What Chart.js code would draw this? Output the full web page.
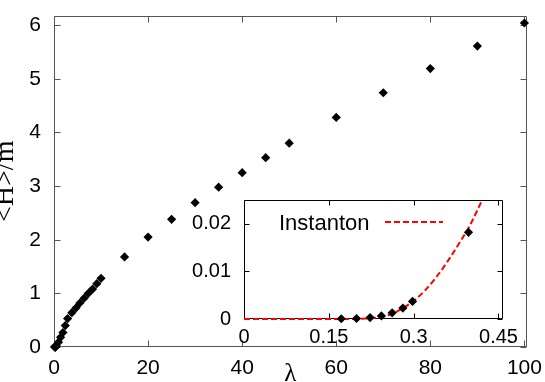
<!DOCTYPE html>
<html>
<head>
<meta charset="utf-8">
<script src="https://cdn.jsdelivr.net/npm/chart.js@4.4.0/dist/chart.umd.min.js"></script>
<style>
  body { margin: 0; background: #fff; }
  #wrap { position: relative; width: 545px; height: 382px; overflow: hidden; }
  #mainChart { position: absolute; left: 0; top: 0; }
  #insetChart { position: absolute; left: 190px; top: 185px; }
</style>
</head>
<body>
<div id="wrap">
  <canvas id="mainChart" width="545" height="382"></canvas>
  <canvas id="insetChart" width="340" height="160"></canvas>
</div>
<script>
// small lambda points (shown in the inset, and piled up at the origin of the main plot)
const lambdaSmall = [0.172, 0.199, 0.223, 0.243, 0.262, 0.281, 0.298, 0.397];
const energySmall = [0.00005, 0.0001, 0.0003, 0.00065, 0.0013, 0.0023, 0.0037, 0.0182];

// <H>/m vs lambda, main plot
const lambdaMain = [0.45, 0.95, 1.4, 1.9, 2.4, 2.9, 3.8, 4.7, 5.5, 6.4, 7.3, 8.2, 9.1, 10,
                    15, 20, 25, 30, 35, 40, 45, 50, 60, 70, 80, 90, 100];
const energyMain = [0.03, 0.09, 0.18, 0.27, 0.40, 0.53, 0.64, 0.73, 0.82, 0.91, 1.00, 1.08, 1.18, 1.28,
                    1.68, 2.05, 2.38, 2.69, 2.98, 3.25, 3.53, 3.80, 4.28, 4.74, 5.19, 5.61, 6.04];

// instanton estimate
const instantonLambda = [0, 0.05, 0.1, 0.15, 0.2, 0.22, 0.24, 0.26, 0.28, 0.30, 0.32, 0.34, 0.36, 0.38, 0.40, 0.42];
const instantonEnergy = [0, 0, 0, 0, 0.00003, 0.0001, 0.0004, 0.001, 0.0022, 0.0038, 0.006, 0.0088, 0.0121, 0.0158, 0.0198, 0.0247];

const mainXTicks = [0, 20, 40, 60, 80, 100];
const mainYTicks = [0, 1, 2, 3, 4, 5, 6];
const insetXTicks = [0, 0.15, 0.3, 0.45];
const insetYTicks = [0, 0.01, 0.02];

const toPoints = (xs, ys) => xs.map((x, i) => ({ x: x, y: ys[i] }));

// gnuplot-like box with inward ticks on all four sides
const framePlugin = {
    id: 'frame',
    beforeDraw(chart, args, opts) {
        if (!opts.fill) return;
        const a = chart.chartArea;
        chart.ctx.save();
        chart.ctx.fillStyle = opts.fill;
        chart.ctx.fillRect(a.left, a.top, a.right - a.left, a.bottom - a.top);
        chart.ctx.restore();
    },
    beforeDatasetsDraw(chart, args, opts) {
        const { ctx, chartArea: a, scales } = chart;
        const len = opts.tickLength;
        const L = Math.round(a.left) + 0.5, R = Math.round(a.right) - 0.5;
        const T = Math.round(a.top) + 0.5, B = Math.round(a.bottom) - 0.5;
        ctx.save();
        ctx.strokeStyle = opts.color;
        ctx.lineWidth = 1;
        ctx.beginPath();
        ctx.rect(L, T, R - L, B - T);
        scales.x.ticks.forEach(t => {
            const px = Math.round(scales.x.getPixelForValue(t.value)) + 0.5;
            ctx.moveTo(px, B); ctx.lineTo(px, B - len);
            ctx.moveTo(px, T); ctx.lineTo(px, T + len);
        });
        scales.y.ticks.forEach(t => {
            const py = Math.round(scales.y.getPixelForValue(t.value)) + 0.5;
            ctx.moveTo(L, py); ctx.lineTo(L + len, py);
            ctx.moveTo(R, py); ctx.lineTo(R - len, py);
        });
        ctx.stroke();
        ctx.restore();
    }
};

// key of the inset: text first, dashed sample after it
const keyPlugin = {
    id: 'key',
    afterDatasetsDraw(chart, args, opts) {
        const { ctx, chartArea: a } = chart;
        ctx.save();
        ctx.font = '22px "Liberation Sans"';
        ctx.fillStyle = '#000';
        ctx.textBaseline = 'alphabetic';
        ctx.fillText(opts.text, a.left + 35, a.top + 30);
        ctx.strokeStyle = opts.color;
        ctx.lineWidth = 2;
        ctx.setLineDash([6, 3]);
        ctx.beginPath();
        ctx.moveTo(a.left + 141, a.top + 22);
        ctx.lineTo(a.left + 199, a.top + 22);
        ctx.stroke();
        ctx.restore();
    }
};

const sansTicks = size => ({
    color: '#000',
    font: { family: 'Liberation Sans', size: size, lineHeight: 1 },
    maxRotation: 0,
    autoSkip: false,
    callback: v => String(v)
});

new Chart(document.getElementById('mainChart'), {
    type: 'scatter',
    data: {
        datasets: [{
            data: toPoints(lambdaSmall.concat(lambdaMain), energySmall.concat(energyMain)),
            pointStyle: 'rectRot',
            pointRadius: 4.6,
            backgroundColor: '#000',
            borderColor: '#000',
            borderWidth: 0,
            clip: false
        }]
    },
    options: {
        responsive: false,
        animation: false,
        events: [],
        layout: { padding: { left: 0, top: 9, right: 16, bottom: 0 }, autoPadding: false },
        plugins: {
            legend: { display: false },
            tooltip: { enabled: false },
            frame: { color: '#555', tickLength: 6 }
        },
        scales: {
            x: {
                type: 'linear', min: 0, max: 100.5,
                afterBuildTicks: s => { s.ticks = mainXTicks.map(v => ({ value: v })); },
                afterFit: s => { s.height = 35; },
                grid: { display: false },
                border: { display: false },
                ticks: Object.assign(sansTicks(21), { padding: 3 }),
                title: {
                    display: true, text: 'λ', color: '#000', padding: 0,
                    font: { family: 'Liberation Serif', size: 25, lineHeight: 0.6 }
                }
            },
            y: {
                type: 'linear', min: 0, max: 6.18,
                afterBuildTicks: s => { s.ticks = mainYTicks.map(v => ({ value: v })); },
                afterFit: s => { s.width = 54; },
                grid: { display: false },
                border: { display: false },
                ticks: Object.assign(sansTicks(21), { padding: 5 }),
                title: {
                    display: true, text: '<H>/m', color: '#000', padding: 0,
                    font: { family: 'Liberation Serif', size: 28, lineHeight: 0.4 }
                }
            }
        }
    },
    plugins: [framePlugin]
});

new Chart(document.getElementById('insetChart'), {
    type: 'scatter',
    data: {
        datasets: [{
            data: toPoints(lambdaSmall, energySmall),
            pointStyle: 'rectRot',
            pointRadius: 4.6,
            backgroundColor: '#000',
            borderColor: '#000',
            borderWidth: 0,
            clip: false
        }, {
            label: 'Instanton',
            data: toPoints(instantonLambda, instantonEnergy),
            showLine: true,
            borderColor: '#ff0000',
            borderWidth: 2,
            borderDash: [6, 3],
            cubicInterpolationMode: 'monotone',
            pointRadius: 0,
            clip: 2
        }]
    },
    options: {
        responsive: false,
        animation: false,
        events: [],
        layout: { padding: { left: 0, top: 8, right: 27, bottom: 0 }, autoPadding: false },
        plugins: {
            legend: { display: false },
            tooltip: { enabled: false },
            frame: { color: '#000', tickLength: 5, fill: '#fff' },
            key: { text: 'Instanton', color: '#ff0000' }
        },
        scales: {
            x: {
                type: 'linear', min: 0, max: 0.458,
                afterBuildTicks: s => { s.ticks = insetXTicks.map(v => ({ value: v })); },
                afterFit: s => { s.height = 26; },
                grid: { display: false },
                border: { display: false },
                ticks: Object.assign(sansTicks(20), { padding: 0 })
            },
            y: {
                type: 'linear', min: 0, max: 0.025,
                afterBuildTicks: s => { s.ticks = insetYTicks.map(v => ({ value: v })); },
                afterFit: s => { s.width = 54; },
                grid: { display: false },
                border: { display: false },
                ticks: Object.assign(sansTicks(20), { padding: 5 })
            }
        }
    },
    plugins: [framePlugin, keyPlugin]
});
</script>
</body>
</html>
